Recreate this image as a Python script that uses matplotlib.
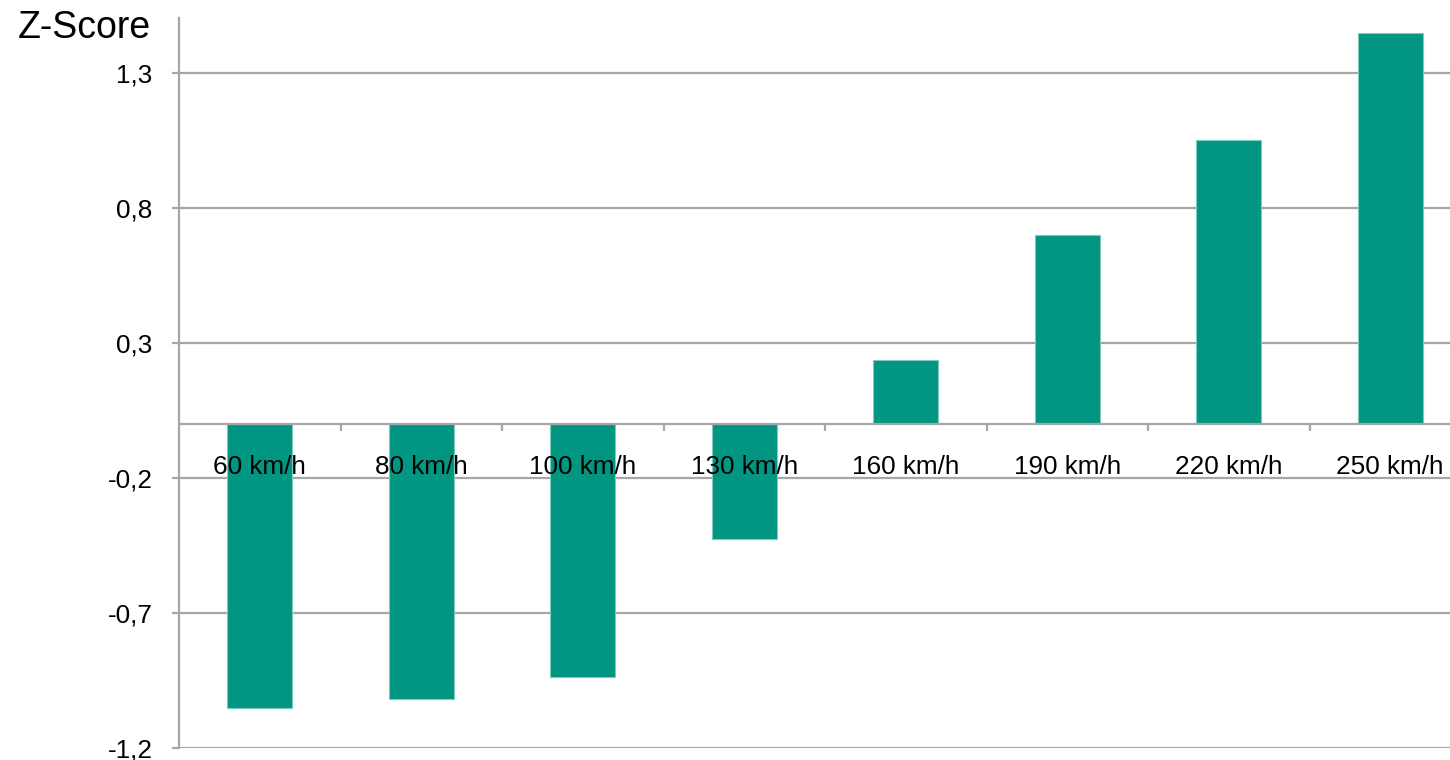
import matplotlib
matplotlib.use("Agg")
import matplotlib.pyplot as plt
from matplotlib.ticker import FixedLocator, FuncFormatter

plt.rcParams['font.family'] = ['Liberation Sans', 'DejaVu Sans']

categories = ["60 km/h", "80 km/h", "100 km/h", "130 km/h",
              "160 km/h", "190 km/h", "220 km/h", "250 km/h"]
z_scores = [-1.05, -1.02, -0.937, -0.426, 0.237, 0.70, 1.052, 1.45]
y_ticks = [-1.2, -0.7, -0.2, 0.3, 0.8, 1.3]

BAR_COLOR = "#009682"
GRID_COLOR = "#a6a6a6"

W, H = 1450, 760
fig = plt.figure(figsize=(W / 100, H / 100), dpi=100)

left_px, right_px, top_px, bottom_px = 179, 1471, 18, 748
ax = fig.add_axes([left_px / W, 1 - bottom_px / H,
                   (right_px - left_px) / W, (bottom_px - top_px) / H])

x = list(range(len(categories)))
ax.bar(x, z_scores, width=0.4, color=BAR_COLOR, edgecolor="#7fcbbf",
       linewidth=0.8, zorder=1)

ax.set_xlim(-0.5, len(categories) - 0.5)
ax.set_ylim(-1.2, 1.504)

# horizontal gridlines behind the bars
for yv in y_ticks:
    ax.axhline(yv, color=GRID_COLOR, linewidth=1.6, zorder=0.5)

# category axis crossing at zero, labels drawn over the bars
for side in ("top", "right"):
    ax.spines[side].set_visible(False)
ax.spines["bottom"].set_position(("data", 0))
ax.spines["bottom"].set_color(GRID_COLOR)
ax.spines["bottom"].set_linewidth(1.6)
ax.spines["left"].set_color(GRID_COLOR)
ax.spines["left"].set_linewidth(1.6)
ax.xaxis.set_zorder(3)

ax.xaxis.set_major_locator(FixedLocator(x))
ax.set_xticklabels(categories)
ax.xaxis.set_minor_locator(FixedLocator([i + 0.5 for i in x]))
ax.tick_params(axis="x", which="major", length=0, pad=22,
               labelsize=18.8, labelcolor="black")
ax.tick_params(axis="x", which="minor", length=5, width=1.6,
               color=GRID_COLOR, direction="out")

ax.yaxis.set_major_locator(FixedLocator(y_ticks))
ax.yaxis.set_major_formatter(FuncFormatter(lambda v, p: f"{v:.1f}".replace(".", ",")))
ax.tick_params(axis="y", length=5, width=1.6, color=GRID_COLOR,
               direction="out", pad=14, labelsize=18.8, labelcolor="black")

fig.text(18 / W, 1 - 28 / H, "Z-Score", fontsize=27, va="center", ha="left")

fig.savefig("out.png", dpi=100)
